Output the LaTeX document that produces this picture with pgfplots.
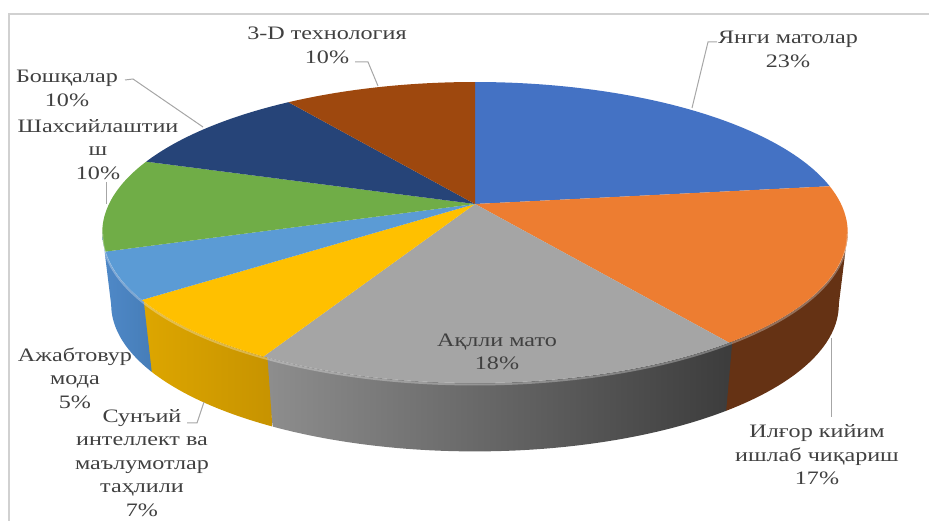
\documentclass[border=0pt]{standalone}
\usepackage{pgfplots}
\usepackage{pgfplotstable}
\pgfplotsset{compat=1.18}
\usepackage{fontspec}
\setmainfont{Liberation Serif}[FakeStretch=1.27]
\definecolor{cA}{HTML}{4472C4}
\definecolor{cB}{HTML}{ED7D31}
\definecolor{cC}{HTML}{A5A5A5}
\definecolor{cD}{HTML}{FFC000}
\definecolor{cE}{HTML}{5B9BD5}
\definecolor{cF}{HTML}{70AD47}
\definecolor{cG}{HTML}{264478}
\definecolor{cH}{HTML}{9E480E}
\definecolor{sB}{HTML}{653214}
\definecolor{sCl}{HTML}{8E8E8E}
\definecolor{sCr}{HTML}{3C3C3C}
\definecolor{sDl}{HTML}{DDA600}
\definecolor{sDr}{HTML}{C79300}
\definecolor{sEl}{HTML}{4F89C8}
\definecolor{sEr}{HTML}{467DB8}
\definecolor{txt}{HTML}{404040}
\definecolor{lead}{HTML}{A6A6A6}
\pgfplotstableread{
v
23
17
18
7
5
10
10
10
}\piedata
\begin{document}
\begin{tikzpicture}
\pgfplotstablegetelem{0}{v}\of\piedata\edef\vA{\pgfplotsretval}%
\pgfplotstablegetelem{1}{v}\of\piedata\edef\vB{\pgfplotsretval}%
\pgfplotstablegetelem{2}{v}\of\piedata\edef\vC{\pgfplotsretval}%
\pgfplotstablegetelem{3}{v}\of\piedata\edef\vD{\pgfplotsretval}%
\pgfplotstablegetelem{4}{v}\of\piedata\edef\vE{\pgfplotsretval}%
\pgfplotstablegetelem{5}{v}\of\piedata\edef\vF{\pgfplotsretval}%
\pgfplotstablegetelem{6}{v}\of\piedata\edef\vG{\pgfplotsretval}%
\pgfplotstablegetelem{7}{v}\of\piedata\edef\vH{\pgfplotsretval}%
\pgfmathsetmacro\bA{3.6*\vA}%
\pgfmathsetmacro\bB{\bA+3.6*\vB}%
\pgfmathsetmacro\bC{\bB+3.6*\vC}%
\pgfmathsetmacro\bD{\bC+3.6*\vD}%
\pgfmathsetmacro\bE{\bD+3.6*\vE}%
\pgfmathsetmacro\bF{\bE+3.6*\vF}%
\pgfmathsetmacro\bG{\bF+3.6*\vG}%
\pgfmathsetmacro\bH{\bG+3.6*\vH}%
\pgfmathsetmacro\sBa{max(\bA,100.9)}%
\pgfmathsetmacro\sFb{min(\bF,259.1)}%
\pgfmathsetmacro\oB{\bB-0.6}%
\pgfmathsetmacro\oC{\bC-0.6}%
\pgfmathsetmacro\oD{\bD-0.6}%
\begin{axis}[
  scale only axis, width=557.4pt, height=312.6pt,
  xmin=0, xmax=929, ymin=0, ymax=521, y dir=reverse,
  hide axis, clip=false,
  declare function={
    px(\t)=475+366*sin(\t)/(1+0.1894*cos(\t));
    py(\t)=204-145.1*cos(\t)/(1+0.1894*cos(\t));
    ang(\s,\a,\b)=(\s<=1)*(\a+\s*(\b-\a))+(\s>1)*(\b-(\s-1)*(\b-\a));
    bx(\s,\a,\b)=(\s<=1)*px(ang(\s,\a,\b))+(\s>1)*(475+0.976*(px(ang(\s,\a,\b))-475));
    by(\s,\a,\b)=(\s<=1)*py(ang(\s,\a,\b))+(\s>1)*(276.7+0.976*(py(ang(\s,\a,\b))-204));
  },
  every axis plot/.append style={draw=none},
  nodes={font=\fontsize{11.4}{14.1}\selectfont, text=txt, align=center},
]
% frame
\draw[black!18, line width=0.8pt] (axis cs:929,14) -- (axis cs:9,14) -- (axis cs:9,521);
% side faces
\addplot[fill=sB, domain=0:2, samples=201] ({bx(x,\sBa,\bB)},{by(x,\sBa,\bB)}) -- cycle;
\addplot[left color=sCl, right color=sCr, domain=0:2, samples=201] ({bx(x,\oB,\bC)},{by(x,\oB,\bC)}) -- cycle;
\addplot[left color=sDl, right color=sDr, domain=0:2, samples=201] ({bx(x,\oC,\bD)},{by(x,\oC,\bD)}) -- cycle;
\addplot[left color=sEl, right color=sEr, domain=0:2, samples=201] ({bx(x,\oD,\sFb)},{by(x,\oD,\sFb)}) -- cycle;
% top faces
\addplot[fill=cA, domain=0:\bA, samples=60] ({px(x)},{py(x)}) -- (axis cs:475,204) -- cycle;
\addplot[fill=cB, domain=\bA:\bB, samples=60] ({px(x)},{py(x)}) -- (axis cs:475,204) -- cycle;
\addplot[fill=cC, domain=\bB:\bC, samples=60] ({px(x)},{py(x)}) -- (axis cs:475,204) -- cycle;
\addplot[fill=cD, domain=\bC:\bD, samples=30] ({px(x)},{py(x)}) -- (axis cs:475,204) -- cycle;
\addplot[fill=cE, domain=\bD:\bE, samples=30] ({px(x)},{py(x)}) -- (axis cs:475,204) -- cycle;
\addplot[fill=cF, domain=\bE:\bF, samples=40] ({px(x)},{py(x)}) -- (axis cs:475,204) -- cycle;
\addplot[fill=cG, domain=\bF:\bG, samples=40] ({px(x)},{py(x)}) -- (axis cs:475,204) -- cycle;
\addplot[fill=cH, domain=\bG:\bH, samples=40] ({px(x)},{py(x)}) -- (axis cs:475,204) -- cycle;
% rim highlight
\addplot[draw=white, draw opacity=0.3, line width=1.2pt, domain=\sBa:\sFb, samples=120] ({px(x)},{py(x)+1.5});
% leader lines
\draw[lead, line width=0.6pt] (axis cs:355,62) -- (axis cs:368,62) -- (axis cs:378,86);
\draw[lead, line width=0.6pt] (axis cs:125,80) -- (axis cs:133,79) -- (axis cs:203,127);
\draw[lead, line width=0.6pt] (axis cs:106,182) -- (axis cs:106,204);
\draw[lead, line width=0.6pt] (axis cs:717,42) -- (axis cs:708,42) -- (axis cs:692,108);
\draw[lead, line width=0.6pt] (axis cs:831,338) -- (axis cs:831,417);
\draw[lead, line width=0.6pt] (axis cs:187,423) -- (axis cs:197,423) -- (axis cs:204,402);
% labels
\node at (axis cs:327,45.5) {3-D технология\\\vH\%};
\node at (axis cs:67,88.5) {Бошқалар\\\vG\%};
\node at (axis cs:98,149.5) {Шахсийлаштии\\ш\\\vF\%};
\node at (axis cs:788,49.5) {Янги матолар\\\vA\%};
\node at (axis cs:497,352) {Ақлли мато\\\vC\%};
\node at (axis cs:817,455) {Илғор кийим\\ишлаб чиқариш\\\vB\%};
\node at (axis cs:75,378) {Ажабтовур\\мода\\\vE\%};
\node at (axis cs:142,463) {Сунъий\\интеллект ва\\маълумотлар\\таҳлили\\\vD\%};
\end{axis}
\pgfresetboundingbox
\useasboundingbox (0,0) rectangle (557.4pt,312.6pt);
\end{tikzpicture}
\end{document}
